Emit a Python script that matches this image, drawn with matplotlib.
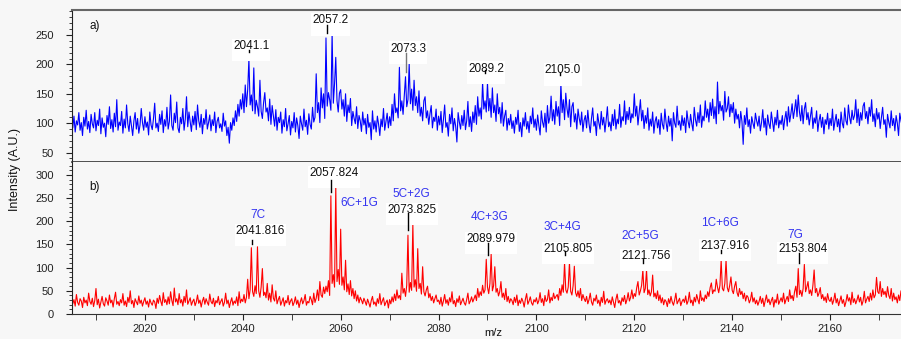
import numpy as np
import matplotlib
matplotlib.use("Agg")
import matplotlib.pyplot as plt
from matplotlib.ticker import MultipleLocator

plt.rcParams['font.family'] = ['Liberation Sans', 'DejaVu Sans']

# m/z sampling grid of the spectra (0.25 step)
mz = np.arange(2005.0, 2175.0, 0.25)

# panel a) intensities, one row = 5 m/z
blue_a = [
    108, 92, 112, 85, 104, 97, 118, 88, 101, 79, 110, 95, 122, 90, 103, 84, 115, 99, 92, 118,
    87, 105, 96, 124, 82, 109, 93, 100, 77, 113, 98, 128, 91, 106, 85, 117, 94, 140, 88, 102,
    96, 120, 83, 107, 92, 131, 99, 86, 112, 95, 79, 104, 118, 90, 108, 83, 97, 125, 101, 88,
    111, 93, 102, 80, 119, 97, 89, 108, 134, 92, 100, 86, 115, 98, 121, 84, 106, 95, 127, 90,
    103, 148, 96, 88, 117, 101, 136, 92, 84, 110, 99, 125, 88, 107, 145, 94, 119, 102, 86, 112,
    97, 120, 89, 131, 104, 93, 115, 82, 108, 98, 123, 90, 101, 114, 87, 106, 96, 119, 84, 103,
    110, 92, 99, 86, 117, 95, 104, 79, 93, 66, 101, 88, 109, 96, 121, 103, 132, 112, 140, 124,
    150, 118, 165, 128, 157, 209, 131, 148, 121, 194, 116, 139, 128, 112, 173, 120, 108, 135, 152, 119,
    126, 104, 141, 98, 130, 112, 95, 123, 88, 110, 101, 119, 83, 106, 94, 125, 87, 99, 113, 80,
    103, 92, 118, 85, 109, 96, 74, 112, 99, 88, 124, 94, 105, 81, 116, 98, 90, 127, 102, 110,
    184, 118, 135, 101, 160, 126, 150, 108, 245, 129, 152, 140, 122, 254, 134, 167, 212, 138, 119, 151,
    157, 124, 140, 112, 150, 103, 131, 118, 142, 96, 120, 108, 99, 128, 91, 113, 104, 86, 119, 97,
    108, 82, 115, 93, 101, 72, 121, 90, 104, 85, 112, 98, 79, 107, 94, 125, 88, 103, 117, 92,
    111, 96, 132, 104, 150, 118, 126, 109, 195, 121, 138, 115, 147, 179, 128, 140, 201, 133, 158, 122,
    173, 130, 145, 118, 155, 112, 127, 104, 138, 145, 109, 121, 98, 116, 130, 92, 110, 103, 124, 88,
    112, 97, 120, 84, 106, 131, 93, 101, 78, 115, 99, 126, 87, 108, 95, 68, 118, 102, 90, 113,
    96, 122, 89, 104, 137, 94, 111, 86, 119, 101, 130, 98, 145, 112, 126, 107, 170, 124, 138, 119,
    169, 121, 142, 110, 160, 118, 131, 103, 150, 116, 127, 100, 135, 95, 112, 122, 88, 108, 97, 115,
    91, 104, 83, 110, 98, 122, 86, 101, 77, 109, 95, 118, 90, 103, 84, 112, 99, 126, 93, 107,
    88, 114, 96, 80, 121, 102, 93, 117, 85, 130, 100, 110, 146, 104, 123, 98, 137, 112, 128, 96,
    167, 118, 140, 106, 151, 125, 110, 140, 94, 128, 135, 102, 116, 90, 124, 108, 97, 119, 86, 105,
    113, 92, 122, 99, 84, 108, 126, 95, 103, 79, 116, 101, 90, 120, 97, 110, 85, 105, 128, 94,
    102, 87, 115, 96, 123, 90, 107, 99, 132, 93, 111, 104, 138, 98, 120, 106, 127, 101, 116, 109,
    150, 112, 129, 97, 118, 140, 104, 122, 91, 113, 100, 126, 88, 107, 95, 119, 83, 103, 111, 92,
    106, 81, 117, 98, 90, 124, 101, 86, 112, 95, 108, 70, 118, 100, 93, 129, 97, 104, 88, 113,
    96, 109, 84, 121, 103, 92, 115, 99, 87, 127, 106, 95, 118, 101, 131, 93, 112, 104, 138, 110,
    124, 102, 135, 113, 141, 108, 128, 99, 170, 116, 137, 121, 130, 105, 154, 119, 125, 145, 111, 132,
    118, 135, 100, 124, 107, 115, 92, 120, 103, 64, 113, 98, 126, 94, 106, 83, 111, 100, 91, 117,
    104, 95, 112, 87, 101, 123, 93, 108, 80, 114, 99, 91, 119, 103, 86, 110, 97, 122, 92, 105,
    98, 113, 89, 107, 120, 95, 128, 102, 116, 133, 108, 122, 140, 111, 148, 119, 104, 130, 99, 124,
    135, 106, 118, 97, 112, 127, 91, 109, 100, 121, 86, 104, 115, 93, 110, 82, 106, 98, 117, 90,
    108, 96, 124, 88, 103, 115, 94, 107, 85, 119, 100, 92, 126, 104, 97, 131, 110, 99, 122, 106,
    113, 140, 101, 124, 96, 118, 105, 129, 135, 108, 120, 99, 127, 112, 140, 103, 116, 94, 125, 107,
    118, 91, 110, 127, 98, 106, 76, 115, 102, 92, 121, 96, 108, 87, 113, 100, 79, 117, 104, 95,
]

# panel b) intensities, one row = 5 m/z
red_b = [
    38, 22, 31, 17, 42, 25, 19, 33, 28, 14, 36, 24, 30, 18, 45, 27, 21, 34, 16, 29,
    55, 20, 32, 13, 26, 38, 22, 17, 35, 28, 19, 41, 24, 30, 15, 33, 47, 21, 27, 18,
    31, 24, 44, 19, 28, 16, 36, 25, 50, 22, 29, 14, 33, 26, 20, 39, 23, 30, 17, 27,
    35, 21, 28, 15, 32, 24, 19, 30, 26, 12, 34, 23, 40, 27, 18, 46, 25, 31, 20, 37,
    22, 48, 29, 18, 56, 26, 33, 20, 44, 24, 31, 17, 38, 25, 52, 21, 28, 35, 19, 27,
    32, 18, 26, 41, 23, 30, 15, 28, 36, 21, 33, 25, 19, 43, 27, 22, 34, 16, 29, 24,
    38, 20, 27, 33, 17, 25, 45, 22, 30, 14, 26, 35, 19, 28, 23, 37, 18, 48, 24, 32,
    27, 42, 24, 36, 75, 33, 52, 143, 48, 38, 61, 44, 145, 50, 36, 58, 98, 40, 47, 35,
    66, 30, 45, 26, 63, 34, 28, 50, 22, 31, 38, 19, 27, 35, 17, 29, 24, 40, 20, 28,
    33, 18, 25, 37, 21, 30, 14, 26, 35, 22, 29, 42, 19, 27, 24, 38, 31, 20, 45, 25,
    34, 52, 29, 70, 41, 36, 58, 44, 60, 48, 72, 40, 255, 66, 85, 58, 276, 70, 96, 64,
    183, 62, 80, 52, 116, 48, 65, 42, 72, 39, 55, 33, 50, 28, 41, 24, 36, 30, 22, 34,
    27, 19, 32, 24, 15, 29, 38, 21, 26, 17, 33, 23, 44, 20, 28, 35, 18, 25, 30, 13,
    31, 22, 37, 26, 43, 29, 52, 34, 40, 31, 88, 45, 55, 38, 62, 170, 47, 68, 51, 194,
    58, 74, 49, 141, 55, 66, 43, 102, 48, 39, 52, 60, 35, 44, 29, 38, 24, 33, 41, 27,
    30, 21, 36, 17, 28, 42, 23, 31, 19, 35, 26, 48, 22, 29, 16, 33, 25, 39, 20, 27,
    34, 24, 19, 31, 45, 22, 28, 37, 26, 33, 41, 29, 55, 36, 48, 40, 62, 45, 52, 118,
    58, 44, 66, 129, 50, 61, 102, 47, 55, 39, 48, 70, 36, 45, 31, 55, 27, 38, 24, 33,
    29, 20, 36, 25, 41, 18, 30, 23, 34, 27, 15, 32, 44, 21, 28, 37, 24, 19, 31, 26,
    35, 22, 29, 46, 25, 33, 18, 40, 27, 31, 52, 24, 36, 29, 45, 33, 38, 42, 30, 55,
    40, 63, 47, 111, 52, 45, 58, 111, 49, 41, 61, 103, 46, 38, 50, 35, 55, 29, 42, 33,
    27, 38, 22, 31, 45, 26, 19, 34, 28, 41, 23, 30, 17, 36, 25, 49, 21, 29, 33, 24,
    30, 20, 37, 26, 14, 32, 43, 24, 29, 19, 35, 27, 40, 22, 31, 46, 28, 36, 52, 33,
    44, 38, 57, 70, 41, 50, 62, 95, 46, 55, 95, 42, 52, 39, 48, 84, 37, 45, 33, 50,
    29, 41, 24, 35, 20, 31, 27, 16, 33, 23, 38, 26, 19, 30, 45, 22, 28, 34, 18, 27,
    32, 25, 39, 21, 28, 47, 24, 30, 18, 36, 26, 42, 31, 22, 50, 29, 35, 27, 41, 33,
    48, 38, 57, 67, 44, 52, 49, 75, 58, 46, 62, 116, 55, 50, 66, 116, 57, 48, 62, 80,
    51, 44, 60, 70, 46, 38, 55, 42, 49, 33, 45, 28, 40, 36, 24, 31, 47, 26, 35, 22,
    30, 19, 27, 38, 23, 34, 16, 28, 41, 25, 32, 20, 29, 36, 15, 31, 24, 43, 21, 28,
    35, 26, 45, 22, 31, 38, 27, 52, 33, 40, 29, 48, 60, 36, 98, 42, 51, 38, 55, 107,
    48, 58, 70, 44, 52, 40, 62, 95, 46, 55, 38, 45, 57, 33, 42, 29, 37, 25, 44, 31,
    27, 36, 21, 30, 45, 24, 33, 18, 29, 39, 23, 31, 16, 26, 42, 28, 35, 20, 47, 25,
    33, 22, 30, 41, 26, 36, 19, 28, 49, 24, 32, 38, 27, 45, 30, 52, 35, 41, 79, 48,
    44, 70, 38, 55, 42, 49, 36, 59, 40, 33, 55, 28, 45, 31, 37, 24, 41, 29, 50, 34,
]

# peak labels panel a): text, x, box top y, tick x, tick y0/y1, tick colour
labels_a = ['2041.1', '2057.2', '2073.3', '2089.2', '2105.0']
labels_a_x = [2041.7, 2057.9, 2073.8, 2089.7, 2105.4]
labels_a_y = [242, 285, 237, 203, 200]
ticks_a_x = [2041.3, 2057.2, 2073.4, 2089.5, 2104.9]
ticks_a_y = [(225, 221), (267, 253), (219, 187), (190, 186), (186, 182)]
ticks_a_col = ['k', 'k', '#777777', 'k', 'k']

# peak labels panel b)
masses_b = ['2041.816', '2057.824', '2073.825', '2089.979', '2105.805',
            '2121.756', '2137.916', '2153.804']
masses_b_x = [2043.6, 2058.7, 2074.6, 2090.7, 2106.4, 2122.4, 2138.5, 2154.4]
masses_b_y = [192, 317, 237, 175, 153, 138, 159, 153]
comps_b = ['7C', '6C+1G', '5C+2G', '4C+3G', '3C+4G', '2C+5G', '1C+6G', '7G']
comps_b_x = [2043.0, 2063.8, 2074.4, 2090.5, 2105.4, 2121.3, 2137.5, 2153.0]
comps_b_y = [213, 239, 258, 209, 187, 168, 196, 170]
ticks_b_x = [2041.9, 2058.1, 2073.8, 2090.1, 2105.8, 2121.7, 2137.8, 2153.6]
ticks_b_y = [(160, 150), (289, 263), (217, 181), (153, 127), (136, 128),
             (118, 110), (139, 132), (131, 110)]

bg = '#f7f7f7'
fig = plt.figure(figsize=(9.01, 3.39), dpi=100, facecolor=bg)
ax1 = fig.add_axes([72/901, 1-162/339, 1-72/901, 152/339], facecolor=bg)
ax2 = fig.add_axes([72/901, 1-314/339, 1-72/901, 152/339], facecolor=bg)

ax1.plot(mz, blue_a, color='#0000ff', lw=0.8)
ax2.plot(mz, red_b, color='#ff0000', lw=0.8)

for ax in (ax1, ax2):
    ax.set_xlim(2005.1, 2174.5)
    ax.spines['right'].set_visible(False)
    ax.spines['left'].set_color('#222222')
    ax.tick_params(axis='y', which='both', direction='out', colors='#222222',
                   labelsize=8, pad=9)
    ax.tick_params(axis='y', which='major', length=4)
    ax.tick_params(axis='y', which='minor', length=2.5)
    ax.yaxis.set_minor_locator(MultipleLocator(10))
    ax.yaxis.set_major_locator(MultipleLocator(50))

ax1.set_ylim(34, 292.5)
ax1.set_yticks([50, 100, 150, 200, 250])
ax1.tick_params(axis='x', which='both', bottom=False, labelbottom=False)
ax1.spines['top'].set_color('#666666')
ax1.spines['top'].set_linewidth(1.5)
ax1.spines['bottom'].set_color('#333333')
ax1.spines['bottom'].set_linewidth(1.2)

ax2.set_ylim(0, 328)
ax2.spines['top'].set_visible(False)
ax2.spines['bottom'].set_color('#333333')
ax2.xaxis.set_major_locator(MultipleLocator(20))
ax2.xaxis.set_minor_locator(MultipleLocator(10))
ax2.tick_params(axis='x', which='both', length=4, colors='#222222', labelsize=8, pad=3)

# white label boxes: the blank second line leaves room under the number
box = dict(boxstyle='square,pad=0.1', fc='white', ec='none')
for t, x, y in zip(labels_a, labels_a_x, labels_a_y):
    ax1.text(x, y, t + '\n ', ha='center', va='top', fontsize=8.5, color='#111111',
             linespacing=0.55, bbox=box, zorder=3)
for x, (y0, y1), c in zip(ticks_a_x, ticks_a_y, ticks_a_col):
    ax1.plot([x, x], [y0, y1], color=c, lw=1, zorder=4)

for t, x, y in zip(masses_b, masses_b_x, masses_b_y):
    ax2.text(x, y, t + '\n ', ha='center', va='top', fontsize=8.5, color='#111111',
             linespacing=0.55, bbox=box, zorder=3)
for t, x, y in zip(comps_b, comps_b_x, comps_b_y):
    ax2.text(x, y, t, ha='center', va='center', fontsize=8.5, color='#3434f0', zorder=3)
for x, (y0, y1) in zip(ticks_b_x, ticks_b_y):
    ax2.plot([x, x], [y0, y1], color='k', lw=1, zorder=4)

ax1.text(2008.6, 266, 'a)', fontsize=8.5, color='#111111', va='center')
ax2.text(2008.6, 274, 'b)', fontsize=8.5, color='#111111', va='center')

fig.text(15/901, 0.5, 'Intensity (A.U.)', rotation=90, ha='center', va='center',
         fontsize=9, color='#111111')
fig.text(493/901, 1-333/339, 'm/z', ha='center', va='center', fontsize=8, color='#111111')

fig.savefig('out.png', dpi=100, facecolor=bg)
